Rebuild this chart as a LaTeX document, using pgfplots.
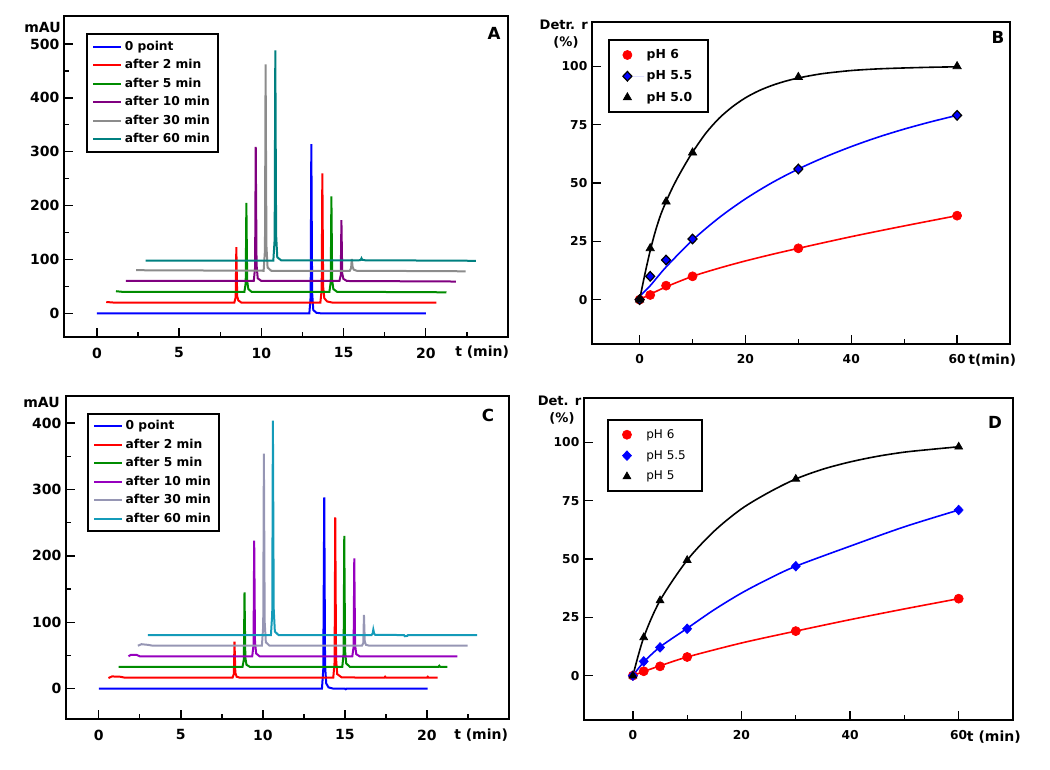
\documentclass[border=0pt]{standalone}
\usepackage{pgfplots}
\pgfplotsset{compat=1.18}
\usepackage{fontspec}
\setmainfont{DejaVu Sans}
\definecolor{cblue}{RGB}{0,0,255}
\definecolor{cred}{RGB}{255,0,0}
\definecolor{cgreen}{RGB}{0,140,0}
\definecolor{cpurple}{RGB}{128,0,128}
\definecolor{cgray}{RGB}{140,140,140}
\definecolor{cteal}{RGB}{0,128,128}
\definecolor{cpurpleC}{RGB}{150,0,190}
\definecolor{cgrayC}{RGB}{150,150,180}
\definecolor{ctealC}{RGB}{20,155,185}
\pgfplotsset{
  base/.style={
    scale only axis,
    axis line style={line width=1.3pt},
    tick align=inside,
    xtick pos=left, ytick pos=left,
    major tick length=7pt, minor tick length=3.5pt,
    every tick/.style={black, line width=1pt},
    /pgf/number format/assume math mode=true,
    legend cell align=left,
  },
  chrom/.style={base, xmin=-2, xmax=25,
    xtick={0,5,10,15,20}, minor xtick={2.5,7.5,12.5,17.5,22.5},
    tick label style={font=\fontsize{10.5}{12}\selectfont\bfseries},
    xticklabel style={yshift=-4.5pt},
    legend image code/.code={\draw[#1] (0pt,0pt) -- (21pt,0pt);},
    legend style={anchor=north west, draw=black, line width=1.5pt,
      font=\fontsize{9.2}{10.5}\selectfont\bfseries, inner xsep=4pt, inner ysep=3pt,
      row sep=1.4pt},
  },
  kin/.style={base, xmin=-9, xmax=70, ymin=-19, ymax=119,
    xtick={0,20,40,60}, minor xtick={10,30,50}, ytick={0,25,50,75,100},
    tick label style={font=\fontsize{9.2}{11}\selectfont\bfseries},
    xticklabel style={yshift=-4.5pt},
    legend image code/.code={\path[draw=none] (-4pt,0pt) -- (12.5pt,0pt); \draw[#1] plot coordinates {(0pt,0pt)};},
    legend style={anchor=north west, draw=black, line width=1.5pt,
      inner xsep=10pt, inner ysep=5pt, row sep=3.6pt},
  },
  tr/.style={line width=1.5pt, #1},
  cv/.style={line width=1.2pt, smooth, no markers, #1},
}
\begin{document}
\begin{tikzpicture}
\useasboundingbox (0pt,0pt) rectangle (787.5pt,-577.5pt);
% ---------------- A ----------------
\begin{axis}[chrom, at={(48pt,-252.75pt)}, anchor=south west,
  width=333pt, height=240.75pt, ymin=-44, ymax=552,
  ytick={0,100,...,500}, minor ytick={50,150,...,450},
  legend style={at={(0.049,0.946)}}]
\addplot[tr=cblue] coordinates {(0,0) (12.92,0) (13.0,31) (13.04,314) (13.09,38) (13.16,6) (13.35,1) (13.6,0) (20,0)};
\addplot[tr=cred] coordinates {(0.57,21) (1,20) (8.36,20) (8.44,30) (8.48,123) (8.53,32) (8.6,24) (8.78,20) (13.59,20) (13.67,44) (13.71,260) (13.76,49) (13.83,28) (14.0,22) (14.3,20) (20.65,20)};
\addplot[tr=cgreen] coordinates {(1.16,41) (1.5,40) (8.97,40) (9.05,56) (9.09,205) (9.14,60) (9.21,45) (9.4,40) (14.14,40) (14.22,58) (14.26,217) (14.31,61) (14.38,45) (14.6,40) (21.26,39)};
\addplot[tr=cpurple] coordinates {(1.76,60) (9.54,60) (9.62,85) (9.66,309) (9.71,90) (9.78,65) (10.0,60) (14.75,60) (14.83,71) (14.87,173) (14.92,74) (14.99,64) (15.2,60) (21.83,59)};
\addplot[tr=cgray] coordinates {(2.39,80) (10.14,79) (10.22,117) (10.26,462) (10.31,125) (10.38,85) (10.6,79) (15.38,79) (15.46,84) (15.5,101) (15.55,86) (15.62,81) (15.8,79) (22.43,78)};
\addplot[tr=cteal] coordinates {(2.96,98) (10.73,98) (10.81,137) (10.85,488) (10.9,145) (10.97,104) (11.2,98.5) (15.95,98.5) (16.05,99) (16.09,102) (16.13,99.5) (16.3,98.5) (23.04,97.5)};
\legend{0 point, after 2 min, after 5 min, after 10 min, after 30 min, after 60 min}
\end{axis}
% ---------------- B ----------------
\begin{axis}[kin, at={(444pt,-258pt)}, anchor=south west,
  width=313.5pt, height=241.5pt,
  legend style={at={(0.0376,0.947)}, font=\fontsize{9.3}{10.5}\selectfont\bfseries}]
\addplot[cv=cred, forget plot] coordinates {(0,0) (2,2.3) (5,5.5) (10,10) (15,13.5) (20,16.6) (25,19.4) (30,22) (40,27) (50,31.6) (60,36)};
\addplot[cv=cblue, forget plot] coordinates {(0,1.5) (2,6) (5,14) (10,25.5) (15,35.1) (20,43.2) (25,50.1) (30,56) (35,61.1) (40,65.6) (45,69.6) (50,73.1) (55,76.2) (60,79)};
\addplot[cv=black, forget plot] coordinates {(0,0) (1,11) (2,21) (3,29.5) (4,36.5) (5,42) (6,47) (7,51.5) (8,55.6) (9,59.5) (10,63.2) (12.5,71.3) (15,77.7) (17.5,82.6) (20,86.5) (22.5,89.5) (25,91.8) (27.5,93.6) (30,95) (32.5,96.1) (35,97) (40,98.2) (45,98.9) (50,99.3) (55,99.6) (60,99.8)};
\addplot[only marks, mark=*, mark size=3.4pt, color=cred, line width=0.5pt] coordinates {(0,0) (2,2) (5,6) (10,10) (30,22) (60,36)};
\addplot[only marks, mark=diamond*, mark size=3.6pt, draw=black, fill=cblue, line width=0.9pt, mark options={xscale=1.25}] coordinates {(0,0) (2,10) (5,17) (10,26) (30,56) (60,79)};
\addplot[only marks, mark=triangle*, mark size=3.6pt, color=black, line width=0.5pt] coordinates {(0,0) (2,22) (5,42) (10,63) (30,95.4) (60,100)};
\legend{pH 6, pH 5.5, pH 5.0}
\end{axis}
% ---------------- C ----------------
\begin{axis}[chrom, at={(49.5pt,-539.25pt)}, anchor=south west,
  width=332.25pt, height=242.25pt, ymin=-45.6, ymax=440.6,
  ytick={0,100,...,400}, minor ytick={50,150,...,350},
  legend style={at={(0.0467,0.948)}}]
\addplot[tr=cblue] coordinates {(0,0) (13.6,0) (13.68,29) (13.74,288) (13.79,35) (13.86,8) (14.0,2) (14.3,0) (15.0,0) (15.05,-0.8) (15.1,0) (20.04,0)};
\addplot[tr=cred] coordinates {(0.59,16) (0.8,18.5) (1.3,18) (1.6,16.6) (8.15,16.6) (8.23,22) (8.27,71) (8.32,24) (8.4,18) (8.6,16.6) (14.29,16.6) (14.37,40) (14.41,258) (14.46,45) (14.53,22) (14.8,17) (17.4,16.6) (17.45,18) (17.5,16.6) (20.0,16.6) (20.05,18) (20.1,16.6) (20.65,16.6)};
\addplot[tr=cgreen] coordinates {(1.2,33) (8.76,33) (8.84,44) (8.88,145) (8.93,47) (9.0,36) (9.2,33) (14.84,33) (14.92,53) (14.96,230) (15.01,57) (15.08,38) (15.3,33) (20.7,33) (20.75,34.5) (20.8,33) (21.24,33)};
\addplot[tr=cpurpleC] coordinates {(1.81,48.7) (1.95,51) (2.3,51) (2.5,48.7) (9.35,48.7) (9.43,66) (9.47,223) (9.52,70) (9.59,53) (9.8,48.7) (15.45,48.7) (15.53,63) (15.57,196) (15.62,66) (15.69,52) (15.9,48.7) (21.85,48.7)};
\addplot[tr=cgrayC] coordinates {(2.38,64.7) (2.6,67) (3.0,66) (3.3,64.7) (9.94,64.7) (10.02,94) (10.06,354) (10.11,100) (10.18,70) (10.4,64.7) (16.04,64.7) (16.12,69) (16.16,111) (16.21,71) (16.28,66) (16.5,64.7) (22.48,64.7)};
\addplot[tr=ctealC] coordinates {(2.99,80.8) (10.49,80.8) (10.57,113) (10.61,403.5) (10.66,120) (10.73,86) (10.95,80.8) (16.62,80.8) (16.69,83) (16.73,89) (16.78,83) (16.85,81) (18.6,80.8) (18.65,79) (18.8,79.5) (18.85,80.8) (23.05,80.8)};
\legend{0 point, after 2 min, after 5 min, after 10 min, after 30 min, after 60 min}
\end{axis}
% ---------------- D ----------------
\begin{axis}[kin, at={(438pt,-540pt)}, anchor=south west,
  width=321.75pt, height=241.5pt,
  legend style={at={(0.0543,0.935)}, font=\fontsize{9}{10.5}\selectfont}]
\addplot[cv=cred, forget plot] coordinates {(0,0) (2,1.8) (5,4.2) (10,8) (20,14) (30,19.1) (40,24) (50,28.6) (60,33)};
\addplot[cv=cblue, forget plot] coordinates {(0,0) (2,5.8) (5,12.3) (10,20.3) (15,28.3) (20,35.4) (25,41.5) (30,46.9) (40,55.5) (50,63.8) (60,71)};
\addplot[cv=black, forget plot] coordinates {(0,0) (2,16.4) (5,32.2) (10,49.5) (15,62) (20,71.5) (25,78.5) (30,84.3) (35,88.5) (40,91.6) (45,94) (50,95.8) (55,97) (60,98.1)};
\addplot[only marks, mark=*, mark size=3.4pt, color=cred, line width=0.5pt] coordinates {(0,0) (2,1.9) (5,4) (10,8) (30,19.1) (60,33)};
\addplot[only marks, mark=diamond*, mark size=3.6pt, color=cblue, line width=0.5pt, mark options={xscale=1.25}] coordinates {(0,0) (2,6.1) (5,12.1) (10,20.1) (30,46.9) (60,71)};
\addplot[only marks, mark=triangle*, mark size=3.4pt, color=black, line width=0.5pt] coordinates {(0,0) (2,16.4) (5,32.2) (10,49.5) (30,84.3) (60,98.1)};
\legend{pH 6, pH 5.5, pH 5}
\end{axis}
% ---------------- labels ----------------
\begin{scope}[x=0.75pt, y=-0.75pt, every node/.style={inner sep=0pt, font=\fontsize{10.5}{12}\selectfont\bfseries}]
\node[anchor=east] at (61,27) {mAU};
\node[anchor=west] at (455,352) {t (min)};
\node[font=\fontsize{12.5}{14}\selectfont\bfseries] at (494,33) {A};
\node[font=\fontsize{9.8}{11}\selectfont\bfseries] at (563.7,25) {Detr. r};
\node[font=\fontsize{9.8}{11}\selectfont\bfseries] at (566,42) {(\%)};
\node[anchor=west, font=\fontsize{10.2}{12}\selectfont\bfseries] at (968.3,360) {t(min)};
\node[font=\fontsize{12.5}{14}\selectfont\bfseries] at (998,37) {B};
\node[anchor=east] at (60,402.3) {mAU};
\node[anchor=west] at (454,735) {t (min)};
\node[font=\fontsize{12.5}{14}\selectfont\bfseries] at (488,415.5) {C};
\node[font=\fontsize{9.8}{11}\selectfont\bfseries] at (559.5,401) {Det. r};
\node[font=\fontsize{9.8}{11}\selectfont\bfseries] at (562,418.5) {(\%)};
\node[anchor=west] at (966.7,736.7) {t (min)};
\node[font=\fontsize{12.5}{14}\selectfont\bfseries] at (995,422) {D};
\end{scope}
\end{tikzpicture}
\end{document}
